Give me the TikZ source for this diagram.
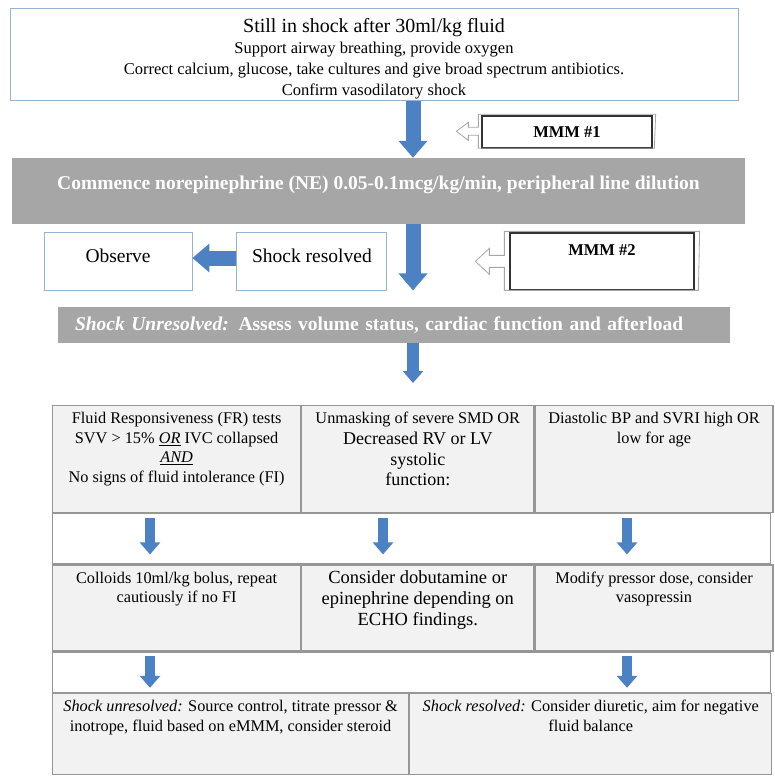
\documentclass[tikz,border=0pt]{standalone}
\usepackage{fontspec}
\setmainfont{Liberation Serif}
\usetikzlibrary{positioning,arrows.meta}

\definecolor{bargray}{RGB}{166,166,166}
\definecolor{cellfill}{RGB}{242,242,242}
\definecolor{cellline}{RGB}{150,150,150}
\definecolor{boxline}{RGB}{150,178,212}
\definecolor{arrowblue}{RGB}{76,129,196}

\newcommand{\cellbox}[3]{\parbox[t][#2][t]{\dimexpr#1-8pt\relax}{\centering\rule{0pt}{18pt}#3}}

\tikzset{
  topbox/.style = {draw = boxline, line width = 1pt, inner sep = 0pt, anchor = north},
  bar/.style = {fill = bargray, text = white, inner sep = 0pt, font = \bfseries\fontsize{19.5}{22}\selectfont},
  plainbox/.style = {draw = boxline, line width = 0.9pt, fill = white, inner sep = 0pt,
    text height = 14pt, text depth = 12pt, font = \fontsize{19.5}{22}\selectfont},
  mmmbox/.style = {draw = black!80, line width = 1.3pt, fill = white, inner sep = 0pt,
    font = \bfseries\fontsize{16.5}{20}\selectfont},
  mmmframe/.style = {draw = gray!70, line width = 0.8pt},
  cell/.style = {draw = cellline, line width = 1.2pt, fill = cellfill, inner sep = 0pt,
    anchor = north west, font = \fontsize{16.3}{19.6}\selectfont},
  gaprow/.style = {cell, fill = white},
  bigarrow/.style = {arrowblue, line width = 15pt, -{Triangle[width = 28pt, length = 17pt]}},
  smallarrow/.style = {arrowblue, line width = 10pt, -{Triangle[width = 20pt, length = 12pt]}}
}

\begin{document}
\begin{tikzpicture}[x = 1pt, y = -1pt]
\useasboundingbox (0, 0) rectangle (775, 778);

% upper part
\node[topbox] (top) at (374, 8) {\parbox[t][92pt][t]{728pt}{\centering\rule{0pt}{24pt}%
  {\fontsize{20}{24}\selectfont Still in shock after 30ml/kg fluid}\par
  \fontsize{16.5}{21}\selectfont Support airway breathing, provide oxygen\\
  Correct calcium, glucose, take cultures and give broad spectrum antibiotics.\\
  Confirm vasodilatory shock}};
\node[bar, minimum width = 733pt, minimum height = 66pt, text height = 14pt, text depth = 17pt] (ne) at (378.5, 191)
  {Commence norepinephrine (NE) 0.05-0.1mcg/kg/min, peripheral line dilution};
\node[plainbox, minimum width = 148pt, minimum height = 58pt] (obs) at (118, 261) {Observe};
\node[plainbox, minimum width = 150pt, minimum height = 58pt, right = 44pt of obs] (res) {Shock resolved};
\node[mmmbox, minimum width = 170pt, minimum height = 32pt] (mmmA) at (567, 132) {MMM \#1};
\node[mmmbox, minimum width = 184pt, minimum height = 57pt, text height = 12pt, text depth = 24pt] (mmmB) at (602, 261.5) {MMM \#2};
\node[bar, minimum width = 672pt, minimum height = 36pt, text width = 638pt, align = left, inner xsep = 17pt] (unres) at (394, 325)
  {\textit{Shock Unresolved:} Assess volume status, cardiac function and afterload};

% callout frames with hollow arrows
\draw[mmmframe] ([xshift = 3pt, yshift = 1pt]mmmA.north east) -- ([xshift = -3pt, yshift = 1pt]mmmA.north west)
  -- ++(0, 13) -- ++(-10, 0) -- ++(0, -5) -- ++(-12, 9) -- ++(12, 9) -- ++(0, -5) -- ++(10, 0)
  -- ++(0, 13) -- ++(176, 0) -- cycle;
\draw[mmmframe] ([xshift = 5pt, yshift = 1pt]mmmB.north east) -- ([xshift = -5pt, yshift = 1pt]mmmB.north west)
  -- ++(0, 24) -- ++(-15, 0) -- ++(0, -7) -- ++(-14, 13) -- ++(14, 13) -- ++(0, -7) -- ++(15, 0)
  -- ++(0, 23) -- ++(194, 0) -- cycle;

% table
\node[cell, minimum width = 248pt, minimum height = 107pt] (c11) at (52, 405) {\cellbox{248pt}{107pt}{%
  Fluid Responsiveness (FR) tests\\ SVV > 15\% \underline{\textit{OR}} IVC collapsed\\ \underline{\textit{AND}}\\ No signs of fluid intolerance (FI)}};
\node[cell, minimum width = 232pt, minimum height = 107pt, right = 0pt of c11] (c12) {\cellbox{232pt}{107pt}{%
  Unmasking of severe SMD OR\\ {\fontsize{18}{21}\selectfont Decreased RV or LV\\ systolic\\ function:}}};
\node[cell, minimum width = 238pt, minimum height = 107pt, right = 0pt of c12] (c13) {\cellbox{238pt}{107pt}{%
  Diastolic BP and SVRI high OR\\ low for age}};
\node[gaprow, minimum width = 718pt, minimum height = 50pt] (r2) at (c11.south west) {};
\node[cell, minimum width = 248pt, minimum height = 86pt] (c31) at (r2.south west) {\cellbox{248pt}{86pt}{%
  Colloids 10ml/kg bolus, repeat\\ cautiously if no FI}};
\node[cell, minimum width = 232pt, minimum height = 86pt, right = 0pt of c31] (c32) {\cellbox{232pt}{86pt}{%
  \fontsize{18.5}{21}\selectfont Consider dobutamine or\\ epinephrine depending on\\ ECHO findings.}};
\node[cell, minimum width = 238pt, minimum height = 86pt, right = 0pt of c32] (c33) {\cellbox{238pt}{86pt}{%
  Modify pressor dose, consider\\ vasopressin}};
\node[gaprow, minimum width = 718pt, minimum height = 40pt] (r4) at (c31.south west) {};
\node[cell, minimum width = 356pt, minimum height = 81pt] (c51) at (r4.south west) {\cellbox{356pt}{81pt}{%
  \textit{Shock unresolved:} Source control, titrate pressor \&\\ inotrope, fluid based on eMMM, consider steroid}};
\node[cell, minimum width = 362pt, minimum height = 81pt, right = 0pt of c51] (c52) {\cellbox{362pt}{81pt}{%
  \textit{Shock resolved:} Consider diuretic, aim for negative\\ fluid balance}};

% arrows
\coordinate (spine) at (413, 0);
\coordinate (colA) at (150, 0);
\coordinate (colB) at (383, 0);
\coordinate (colC) at (627, 0);
\draw[bigarrow] (spine |- top.south) -- (spine |- ne.north);
\draw[bigarrow] (spine |- ne.south) -- (spine |- obs.south);
\draw[bigarrow] ([yshift = 3pt]res.west) -- ([yshift = 3pt]obs.east);
\draw[smallarrow, line width = 12pt, shorten >= 22pt] (spine |- unres.south) -- (spine |- c12.north);
\foreach \c in {colA, colB, colC}
  \draw[smallarrow, shorten <= 5pt, shorten >= 10pt] (\c |- c11.south) -- (\c |- c31.north);
\foreach \c in {colA, colC}
  \draw[smallarrow, shorten <= 4pt, shorten >= 5pt] (\c |- c31.south) -- (\c |- c51.north);
\end{tikzpicture}
\end{document}
